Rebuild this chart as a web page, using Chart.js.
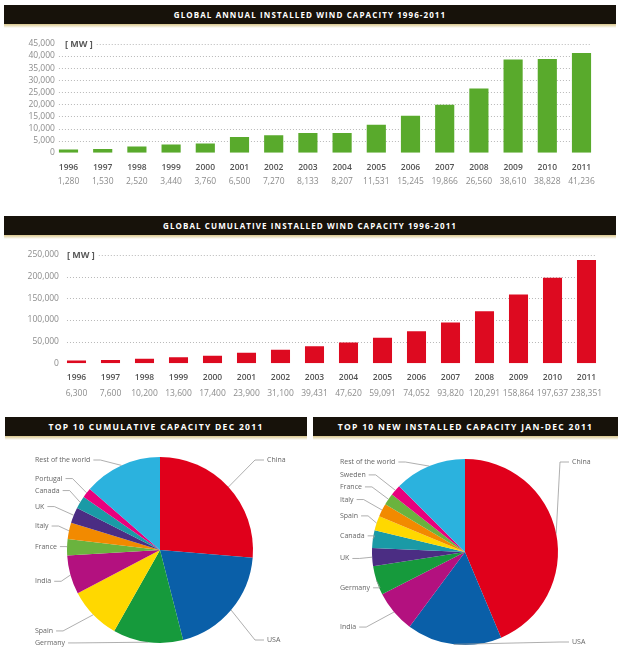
<!DOCTYPE html>
<html>
<head>
<meta charset="utf-8">
<script src="https://cdn.jsdelivr.net/npm/chart.js@4.4.1/dist/chart.umd.min.js"></script>
<style>
  body { margin: 0; background: #fff; width: 622px; height: 655px; position: relative; overflow: hidden; font-family: "Open Sans", sans-serif; }
  .hdr { position: absolute; height: 19px; line-height: 19px; background: #17120a; color: #fff; text-align: center;
         font-weight: bold; font-size: 8px; letter-spacing: 1.1px; }
  .hdr::after { content: ""; position: absolute; left: 0; right: 0; top: 19px; height: 4px;
                background: linear-gradient(to bottom, #d9c68c, rgba(240,230,200,0)); }
  canvas { position: absolute; }
</style>
</head>
<body>
<div class="hdr" style="left:4px;top:5px;width:612px;">GLOBAL ANNUAL INSTALLED WIND CAPACITY 1996-2011</div>
<div class="hdr" style="left:4px;top:216px;width:612px;">GLOBAL CUMULATIVE INSTALLED WIND CAPACITY 1996-2011</div>
<div class="hdr" style="left:5px;top:417px;width:302px;font-size:8.5px;letter-spacing:1.3px;">TOP 10 CUMULATIVE CAPACITY DEC 2011</div>
<div class="hdr" style="left:313px;top:417px;width:305px;font-size:8.5px;letter-spacing:1.3px;">TOP 10 NEW INSTALLED CAPACITY JAN-DEC 2011</div>

<canvas id="annual" width="622" height="160" style="left:0;top:30px;"></canvas>
<canvas id="cumul" width="622" height="162" style="left:0;top:240px;"></canvas>
<canvas id="pieCum" width="310" height="215" style="left:0;top:440px;"></canvas>
<canvas id="pieNew" width="312" height="215" style="left:310px;top:440px;"></canvas>

<script>
// data
const years = ['1996','1997','1998','1999','2000','2001','2002','2003','2004','2005','2006','2007','2008','2009','2010','2011'];
const annualMW = [1280, 1530, 2520, 3440, 3760, 6500, 7270, 8133, 8207, 11531, 15245, 19866, 26560, 38610, 38828, 41236];
const cumulativeMW = [6300, 7600, 10200, 13600, 17400, 23900, 31100, 39431, 47620, 59091, 74052, 93820, 120291, 158864, 197637, 238351];
const annualTicks = [0, 5000, 10000, 15000, 20000, 25000, 30000, 35000, 40000, 45000];
const cumulativeTicks = [0, 50000, 100000, 150000, 200000, 250000];

const cumCountries = ['China', 'USA', 'Germany', 'Spain', 'India', 'France', 'Italy', 'UK', 'Canada', 'Portugal', 'Rest of the world'];
const cumCapacity = [62733, 46919, 29060, 21674, 16084, 6800, 6747, 6540, 5265, 4083, 32446];
const newCountries = ['China', 'USA', 'India', 'Germany', 'UK', 'Canada', 'Spain', 'Italy', 'France', 'Sweden', 'Rest of the world'];
const newCapacity = [18000, 6810, 3019, 2086, 1293, 1267, 1050, 950, 830, 763, 5168];

// colours per country
const countryColor = {
  'China': '#e0001b', 'USA': '#0a5fa8', 'Germany': '#169a3c', 'Spain': '#ffd800', 'India': '#b3117f',
  'France': '#6ab33e', 'Italy': '#f28a00', 'UK': '#4b2d83', 'Canada': '#1a9aa6', 'Portugal': '#e8007d',
  'Sweden': '#e8007d', 'Rest of the world': '#2bb2de'
};

Chart.defaults.font.family = '"Open Sans", sans-serif';
Chart.defaults.animation = false;

const fmt = v => Number(v).toLocaleString('en-US');

// dotted grid from the first bar to the last one, y labels and the unit tag
const dotGrid = {
  id: 'dotGrid',
  beforeDatasetsDraw(chart, args, opts) {
    const ctx = chart.ctx;
    const bars = chart.getDatasetMeta(0).data;
    const x0 = bars[0].x - bars[0].width / 2;
    const x1 = bars[bars.length - 1].x + bars[bars.length - 1].width / 2;
    const y = chart.scales.y;
    ctx.save();
    ctx.textBaseline = 'middle';
    // tick labels
    ctx.font = '8.5px "Open Sans"';
    ctx.fillStyle = '#8c8c8c';
    ctx.textAlign = 'right';
    y.ticks.forEach(t => ctx.fillText(fmt(t.value), x0 - opts.labelGap, y.getPixelForValue(t.value)));
    // unit
    ctx.textAlign = 'left';
    ctx.font = 'bold 9px "Open Sans"';
    ctx.fillStyle = '#5a5a5a';
    const topY = y.getPixelForValue(y.max);
    const ux = x0 + opts.unitOffset;
    ctx.fillText('[ MW ]', ux, topY);
    const unitEnd = ux + ctx.measureText('[ MW ]').width + 4;
    // grid
    ctx.strokeStyle = '#b8b8b8';
    ctx.lineWidth = 1;
    ctx.setLineDash([1, 2]);
    y.ticks.forEach(t => {
      if (t.value === 0) return;
      const py = Math.round(y.getPixelForValue(t.value)) + 0.5;
      ctx.beginPath();
      ctx.moveTo(t.value === y.max ? unitEnd : x0, py);
      ctx.lineTo(x1, py);
      ctx.stroke();
    });
    ctx.restore();
  }
};

function barChart(id, values, tickVals, color, geo) {
  new Chart(document.getElementById(id), {
    type: 'bar',
    data: {
      labels: years,
      datasets: [{ data: values, backgroundColor: color, borderWidth: 0, barPercentage: 0.56, categoryPercentage: 1, xAxisID: 'x' }]
    },
    options: {
      responsive: false,
      layout: { padding: { left: 0, right: geo.right, top: geo.top, bottom: geo.bottom } },
      plugins: {
        legend: { display: false }, tooltip: { enabled: false },
        dotGrid: { unitOffset: geo.unitOffset, labelGap: geo.labelGap }
      },
      scales: {
        y: {
          min: 0, max: tickVals[tickVals.length - 1],
          afterBuildTicks: s => { s.ticks = tickVals.map(v => ({ value: v })); },
          afterFit: s => { s.width = geo.left; },
          grid: { display: false, drawTicks: false },
          border: { display: false },
          ticks: { display: false }
        },
        x: {
          position: 'bottom',
          afterFit: s => { s.height = geo.yearPad + 11; },
          grid: { display: false, drawTicks: false },
          border: { display: false },
          ticks: { padding: geo.yearPad, color: '#555', font: { size: 8.5, weight: '600' }, maxRotation: 0, autoSkip: false }
        },
        x2: {
          type: 'category',
          position: 'bottom',
          labels: values.map(fmt),
          afterFit: s => { s.height = geo.valPad + 11; },
          grid: { display: false, drawTicks: false },
          border: { display: false },
          ticks: { padding: geo.valPad, color: '#8c8c8c', font: { size: 8.5 }, maxRotation: 0, autoSkip: false }
        }
      }
    },
    plugins: [dotGrid]
  });
}

barChart('annual', annualMW, annualTicks, '#59aa2c',
  { left: 51.4, right: 23.4, top: 14, bottom: 3, labelGap: 4, unitOffset: 6, yearPad: 9.4, valPad: 2.9 });
barChart('cumul', cumulativeMW, cumulativeTicks, '#dd0a20',
  { left: 59.5, right: 18.5, top: 15, bottom: 3, labelGap: 8, unitOffset: 0, yearPad: 8.9, valPad: 4.9 });

// leader-line labels round the pies
const pieLabels = {
  id: 'pieLabels',
  afterDraw(chart, args, opts) {
    const ctx = chart.ctx;
    const arcs = chart.getDatasetMeta(0).data;
    const names = chart.data.labels;
    const cx = arcs[0].x, cy = arcs[0].y, r = arcs[0].outerRadius;
    const items = arcs.map((arc, i) => {
      const mid = (arc.startAngle + arc.endAngle) / 2;
      const right = i < opts.rightCount;
      let y = right ? (Math.sin(mid) < 0 ? cy - r + 3 : cy + r - 3) : cy + Math.sin(mid) * r * 1.25;
      y = Math.max(cy - r + 3, Math.min(cy + r - 3, y));
      return { ax: cx + Math.cos(mid) * r, ay: cy + Math.sin(mid) * r, right, y, text: names[i] };
    });
    const left = items.filter(d => !d.right).sort((a, b) => a.y - b.y);
    for (let k = 1; k < left.length; k++) {
      if (left[k].y < left[k - 1].y + 12) left[k].y = left[k - 1].y + 12;
    }
    ctx.save();
    ctx.font = '7px "Open Sans"';
    ctx.textBaseline = 'middle';
    ctx.fillStyle = '#666';
    ctx.strokeStyle = '#9a9a9a';
    ctx.lineWidth = 0.8;
    items.forEach(d => {
      const w = ctx.measureText(d.text).width;
      let tx, ex, bx;
      if (d.right) {
        tx = cx + r + 14;
        ex = tx - 3; bx = ex - 9;
      } else {
        tx = cx - r - 32;
        ex = tx + w + 3; bx = ex + 7;
      }
      ctx.fillText(d.text, tx, d.y);
      ctx.beginPath();
      ctx.moveTo(ex, d.y);
      ctx.lineTo(bx, d.y);
      ctx.lineTo(d.ax, d.ay);
      ctx.stroke();
    });
    ctx.restore();
  }
};

function pieChart(id, names, values, pad) {
  new Chart(document.getElementById(id), {
    type: 'pie',
    data: {
      labels: names,
      datasets: [{ data: values, backgroundColor: names.map(n => countryColor[n]), borderWidth: 0, hoverOffset: 0 }]
    },
    options: {
      responsive: false,
      layout: { padding: pad },
      plugins: { legend: { display: false }, tooltip: { enabled: false }, pieLabels: { rightCount: 2 } }
    },
    plugins: [pieLabels]
  });
}

pieChart('pieCum', cumCountries, cumCapacity, { left: 67, right: 57, top: 17, bottom: 12 });
pieChart('pieNew', newCountries, newCapacity, { left: 62, right: 64, top: 19, bottom: 10 });
</script>
</body>
</html>
